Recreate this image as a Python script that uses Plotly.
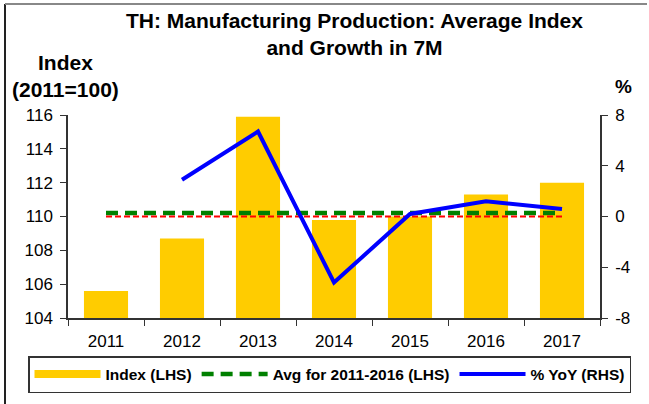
import plotly.graph_objects as go

years = ["2011", "2012", "2013", "2014", "2015", "2016", "2017"]
index_vals = [105.6, 108.7, 115.9, 109.8, 110.0, 111.3, 112.0]
avg_vals = [110.2, 110.2, 110.2, 110.2, 110.2, 110.2, 110.2]
yoy_vals = [None, 2.9, 6.7, -5.2, 0.2, 1.2, 0.6]
zero_vals = [0, 0, 0, 0, 0, 0, 0]
left_ticks = [104, 106, 108, 110, 112, 114, 116]
right_ticks = [-8, -4, 0, 4, 8]
right_labels = ["-8", "-4", "0", "4", "8"]

FONT = "Liberation Sans, Arial, sans-serif"
L, R, T, B = 68, 49, 115, 86
PW, PH = 649 - L - R, 404 - T - B

def px(x):
    return (x - L) / PW

def py(y):
    return (404 - B - y) / PH

fig = go.Figure()
fig.add_trace(go.Bar(x=years, y=index_vals, marker=dict(color="#FFCC00", line=dict(width=0)),
                     width=0.58, showlegend=False, yaxis="y"))
# legend stand-in for bars (wide rectangle symbol)
fig.add_trace(go.Scatter(x=[None], y=[None], mode="lines", name="<b>Index (LHS)</b>",
                         line=dict(color="#FFCC00", width=8)))
fig.add_trace(go.Scatter(x=years, y=zero_vals, mode="lines", yaxis="y2", showlegend=False,
                         line=dict(color="#FF0000", width=2, dash="6px,3px")))
fig.add_trace(go.Scatter(x=years, y=avg_vals, mode="lines", name="<b>Avg for 2011-2016 (LHS)</b>",
                         line=dict(color="#008000", width=4.5, dash="12px,7px")))
fig.add_trace(go.Scatter(x=years, y=yoy_vals, mode="lines", yaxis="y2", name="<b>% YoY (RHS)</b>",
                         line=dict(color="#0000FF", width=4), connectgaps=False))

fig.update_layout(
    width=649, height=404,
    margin=dict(l=L, r=R, t=T, b=B, autoexpand=False),
    paper_bgcolor="white", plot_bgcolor="white",
    font=dict(family=FONT, size=17, color="#000000"),
    xaxis=dict(type="category", showline=True, linecolor="#333333", linewidth=1.5,
               ticks="outside", tickson="boundaries", ticklen=6, tickcolor="#333333",
               showgrid=False, tickfont=dict(size=17), range=[-0.5, 6.5],
               ticklabelstandoff=7),
    yaxis=dict(range=[104, 116], tickvals=left_ticks, showline=True, linecolor="#333333",
               linewidth=1.5, ticks="outside", ticklen=6, tickcolor="#333333",
               showgrid=False, zeroline=False, tickfont=dict(size=17), ticklabelstandoff=4),
    yaxis2=dict(range=[-8, 8], tickvals=right_ticks, ticktext=right_labels, overlaying="y",
                side="right", showline=True, linecolor="#333333", linewidth=1.5,
                ticks="outside", ticklen=6, tickcolor="#333333", showgrid=False,
                zeroline=False, tickfont=dict(size=17), ticklabelstandoff=4),
    legend=dict(orientation="h", x=px(28), y=py(356), xanchor="left", yanchor="top",
                bordercolor="#333333", borderwidth=1.5, bgcolor="white",
                font=dict(size=15.5, family=FONT), itemwidth=66, tracegroupgap=0),
    showlegend=True,
)

fig.add_annotation(text="<b>TH: Manufacturing Production: Average Index<br>and Growth in 7M</b>",
                   xref="paper", yref="paper", x=px(354), y=py(7), xanchor="center", yanchor="top",
                   showarrow=False, font=dict(size=21, family=FONT))
fig.add_annotation(text="<b>Index<br>(2011=100)</b>", xref="paper", yref="paper",
                   x=px(65), y=py(76), xanchor="center", yanchor="middle", showarrow=False,
                   font=dict(size=21, family=FONT))
fig.add_annotation(text="<b>%</b>", xref="paper", yref="paper", x=px(623), y=py(87),
                   xanchor="center", yanchor="middle", showarrow=False, font=dict(size=19, family=FONT))

fig.add_shape(type="line", xref="paper", yref="paper", x0=px(5), x1=px(5), y0=py(4), y1=py(404),
              line=dict(color="#222222", width=2))
fig.add_shape(type="line", xref="paper", yref="paper", x0=px(5), x1=px(647), y0=py(4), y1=py(4),
              line=dict(color="#888888", width=2))

fig.write_html("out.html", config={"displayModeBar": False},
               post_script="document.body.style.margin='0';")
